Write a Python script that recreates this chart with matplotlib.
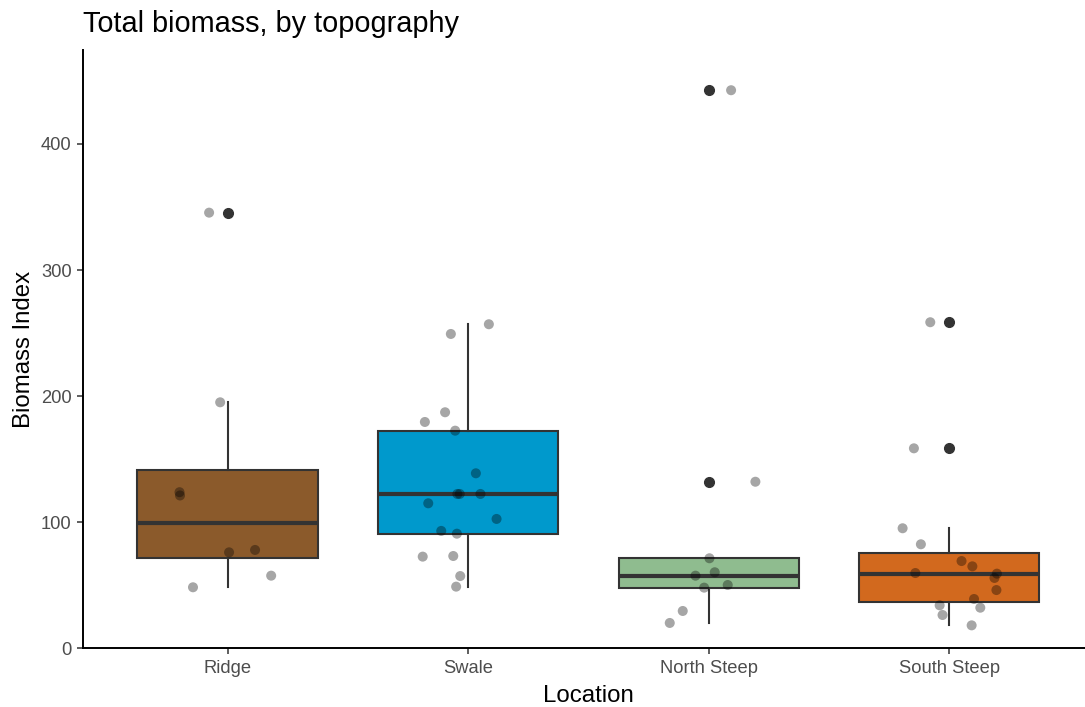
import matplotlib.pyplot as plt
import numpy as np

plt.rcParams['font.family'] = ['Liberation Sans', 'DejaVu Sans']

locations = ["Ridge", "Swale", "North Steep", "South Steep"]
box_colors = ["#8B5A2B", "#0099CC", "#8FBC8F", "#D2691E"]

# biomass index per plot
ridge = [345.5, 195.1, 123.8, 121.2, 78.0, 76.1, 57.6, 48.4]
swale = [257.0, 249.3, 187.2, 179.5, 172.6, 138.8, 122.4, 122.4, 122.4,
         115.0, 102.6, 93.1, 90.9, 72.7, 73.2, 57.3, 48.9]
north_steep = [442.6, 132.1, 71.4, 60.3, 57.6, 50.2, 48.1, 29.6, 20.1]
south_steep = [258.6, 158.6, 95.2, 82.5, 69.2, 65.0, 59.7, 59.2, 55.8,
               46.2, 39.1, 34.1, 32.2, 26.4, 18.2]

# horizontal jitter of each point as drawn (category units)
ridge_jit = [-0.077, -0.031, -0.200, -0.198, 0.114, 0.006, 0.181, -0.144]
swale_jit = [0.086, -0.072, -0.096, -0.180, -0.054, 0.032, -0.045, -0.035, 0.051,
             -0.166, 0.118, -0.112, -0.047, -0.189, -0.062, -0.033, -0.050]
north_jit = [0.093, 0.194, 0.003, 0.025, -0.055, 0.079, -0.019, -0.108, -0.162]
south_jit = [-0.079, -0.147, -0.194, -0.118, 0.051, 0.096, -0.141, 0.198, 0.188,
             0.196, 0.103, -0.040, 0.129, -0.028, 0.093]

groups = [ridge, swale, north_steep, south_steep]
jitters = [ridge_jit, swale_jit, north_jit, south_jit]

fig = plt.figure(figsize=(10.85, 7.07), dpi=100)
ax = fig.add_axes([83.3 / 1085, 58.7 / 707, 1010.3 / 1085, 598.3 / 707])

edge = "#333333"
pos = np.arange(1, len(locations) + 1)
bp = ax.boxplot(groups, positions=pos, widths=0.75, patch_artist=True,
                whis=1.5, showcaps=False,
                boxprops=dict(edgecolor=edge, linewidth=1.5),
                whiskerprops=dict(color=edge, linewidth=1.5),
                medianprops=dict(color=edge, linewidth=3.0),
                flierprops=dict(marker='o', markerfacecolor=edge,
                                markeredgecolor=edge, markersize=7))
for patch, c in zip(bp['boxes'], box_colors):
    patch.set_facecolor(c)

for p, vals, jit in zip(pos, groups, jitters):
    ax.scatter(p + np.array(jit), vals, s=52, color='black', alpha=0.35,
               edgecolors='none', zorder=4)

ax.set_xlim(0.4, 4.6)
ax.set_ylim(0, 474.5)
ax.set_yticks([0, 100, 200, 300, 400])
ax.set_xticks(pos)
ax.set_xticklabels(locations)

for s in ['top', 'right']:
    ax.spines[s].set_visible(False)
for s in ['left', 'bottom']:
    ax.spines[s].set_color('black')
    ax.spines[s].set_linewidth(1.4)

ax.tick_params(axis='both', colors=edge, labelcolor='#4D4D4D',
               labelsize=13.2, length=4, width=1.1, pad=4.5)

ax.set_xlabel("Location", fontsize=17.3, labelpad=6)
ax.set_ylabel("Biomass Index", fontsize=17.3, labelpad=4)
fig.text(83.3 / 1085, 1 - 32 / 707, "Total biomass, by topography",
         fontsize=20.8, ha='left', va='baseline')

fig.savefig('out.png', dpi=100)
